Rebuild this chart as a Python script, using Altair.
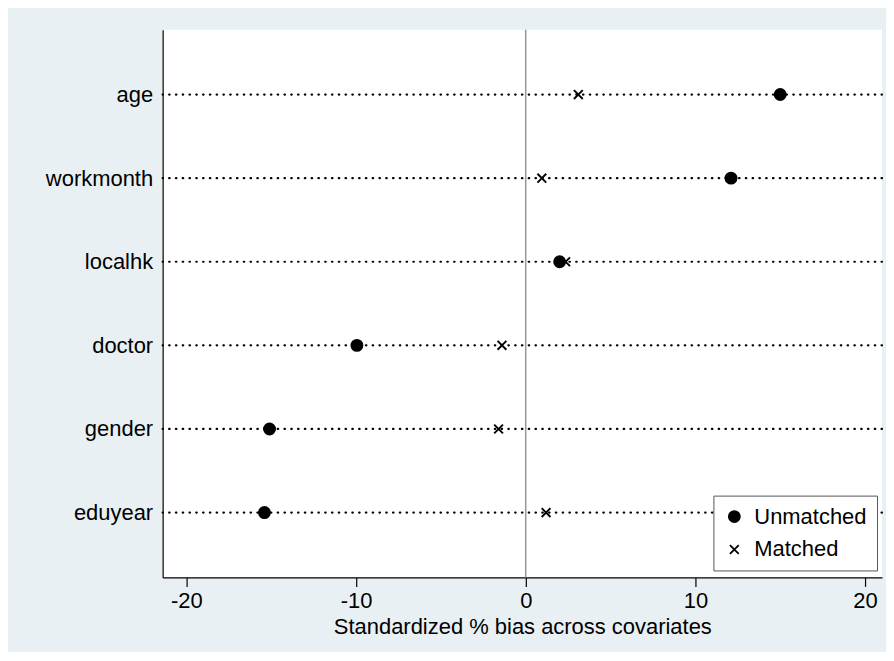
import altair as alt
import pandas as pd

categories = ["age", "workmonth", "localhk", "doctor", "gender", "eduyear"]
unmatched = [15.0, 12.1, 2.0, -9.95, -15.1, -15.4]
matched = [3.1, 0.95, 2.35, -1.4, -1.6, 1.2]
series = ["Unmatched", "Matched"]
zero_line = [0]
x_ticks = [-20, -10, 0, 10, 20]

rows = []
for c, u, m in zip(categories, unmatched, matched):
    rows.append({"covariate": c, "bias": u, "type": "Unmatched"})
    rows.append({"covariate": c, "bias": m, "type": "Matched"})
df = pd.DataFrame(rows)
cat_df = pd.DataFrame({"covariate": categories})
zero_df = pd.DataFrame({"x": zero_line})

FONT = "Liberation Sans"
CROSS = "M-1,-1L1,1M1,-1L-1,1"

xscale = alt.Scale(domain=[-21.4, 21.0], nice=False, zero=False)
yscale = alt.Scale(type="point", domain=categories, padding=0.776)
xaxis = alt.Axis(values=x_ticks, title="Standardized % bias across covariates",
                 grid=False, tickSize=9, labelPadding=4, titlePadding=5,
                 labelExpr="datum.value + ''")
yaxis = alt.Axis(title=None, ticks=False, grid=False, labelPadding=10,
                 minExtent=150, maxExtent=150)

leg = alt.Legend(orient="none", legendX=552, legendY=467, title=None,
                 padding=10, rowPadding=11, labelFontSize=22, labelFont=FONT,
                 labelColor="black", fillColor="white", strokeColor="#555555",
                 labelOffset=9, symbolStrokeColor="black",
                 symbolStrokeWidth=1.8)

dots = alt.Chart(cat_df).mark_rule(
    strokeDash=[0.5, 6.3], strokeCap="round", strokeWidth=2.2, color="black"
).encode(
    y=alt.Y("covariate:N", sort=categories, scale=yscale, axis=yaxis)
)

zero = alt.Chart(zero_df).mark_rule(color="#9a9a9a", strokeWidth=1.6).encode(
    x=alt.X("x:Q", scale=xscale, axis=xaxis)
)

points = alt.Chart(df).mark_point(filled=False, strokeWidth=1.9, opacity=1).encode(
    x=alt.X("bias:Q", scale=xscale, axis=xaxis),
    y=alt.Y("covariate:N", sort=categories, scale=yscale, axis=yaxis),
    shape=alt.Shape("type:N", scale=alt.Scale(domain=series, range=["circle", CROSS]), legend=leg),
    size=alt.Size("type:N", scale=alt.Scale(domain=series, range=[122, 78]), legend=leg),
    fill=alt.Fill("type:N", scale=alt.Scale(domain=series, range=["black", "transparent"]), legend=leg),
    stroke=alt.Stroke("type:N", scale=alt.Scale(domain=series, range=["black", "black"]), legend=leg),
)

chart = alt.layer(dots, zero, points).properties(
    width=721, height=549,
    background="#e9f0f3",
    padding={"left": 5, "top": 20, "right": 2, "bottom": 14},
).configure_view(
    fill="white", stroke=None
).configure_axis(
    domainColor="black", tickColor="black", labelColor="black",
    titleColor="black", labelFont=FONT, titleFont=FONT,
    labelFontSize=22, titleFontSize=22, titleFontWeight="normal",
    domainWidth=1.2, tickWidth=1.2,
)

chart.save("out.html", embed_options={"renderer": "svg", "actions": False})
